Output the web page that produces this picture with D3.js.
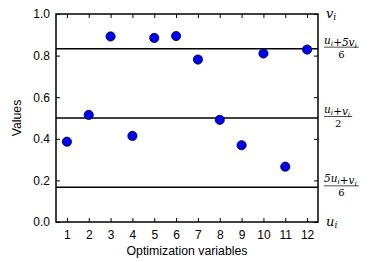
<!DOCTYPE html>
<html>
<head>
<meta charset="utf-8">
<script src="https://cdn.jsdelivr.net/npm/d3@7"></script>
<style>
  body { margin: 0; background: #fff; }
  svg { display: block; }
  .tick text { font-family: "Liberation Sans", Arial, sans-serif; font-size: 12px; fill: #000; }
  .lbl { font-family: "Liberation Sans", Arial, sans-serif; font-size: 12.3px; fill: #000; }
  .math { font-family: "DejaVu Serif", "Liberation Serif", serif; font-style: italic; fill: #000; }
</style>
</head>
<body>
<div id="chart"></div>
<script>
// data
const variables = [1, 2, 3, 4, 5, 6, 7, 8, 9, 10, 11, 12];
const values = [0.386, 0.515, 0.892, 0.414, 0.885, 0.894, 0.781, 0.491, 0.369, 0.81, 0.266, 0.829];
const yTicks = [0.0, 0.2, 0.4, 0.6, 0.8, 1.0];
const levels = [5 / 6, 1 / 2, 1 / 6];
const levelLabels = [
  { num: [['u', 'i'], ['+5v', 'i']], den: '6' },
  { num: [['u', 'i'], ['+v', 'i']], den: '2' },
  { num: [['5u', 'i'], ['+v', 'i']], den: '6' },
];

const W = 374, H = 262;
const margin = { top: 14, right: 56, bottom: 40, left: 56 };
const innerW = W - margin.left - margin.right;
const innerH = H - margin.top - margin.bottom;

const svg = d3.select('#chart').append('svg').attr('width', W).attr('height', H);
const g = svg.append('g').attr('transform', `translate(${margin.left},${margin.top})`);

const x = d3.scaleLinear().domain([0.5, 12.5]).range([0, innerW]);
const y = d3.scaleLinear().domain([0, 1]).range([innerH, 0]);

// axes, ticks pointing inward
g.append('g').attr('transform', `translate(0,${innerH})`)
  .call(d3.axisBottom(x).tickValues(variables).tickFormat(d3.format('d')).tickSizeInner(-4).tickSizeOuter(0).tickPadding(8));
g.append('g')
  .call(d3.axisTop(x).tickValues(variables).tickFormat('').tickSizeInner(-4).tickSizeOuter(0));
g.append('g')
  .call(d3.axisLeft(y).tickValues(yTicks).tickFormat(d3.format('.1f')).tickSizeInner(-4).tickSizeOuter(0).tickPadding(6));
g.append('g').attr('transform', `translate(${innerW},0)`)
  .call(d3.axisRight(y).tickValues(yTicks).tickFormat('').tickSizeInner(-4).tickSizeOuter(0));
g.selectAll('.domain').remove();
g.selectAll('.tick line').attr('stroke', '#000');

// frame
g.append('rect').attr('width', innerW).attr('height', innerH)
  .attr('fill', 'none').attr('stroke', '#000').attr('stroke-width', 1.5);

// reference lines
g.selectAll('.level').data(levels).enter().append('line')
  .attr('class', 'level')
  .attr('x1', 0).attr('x2', innerW)
  .attr('y1', d => y(d)).attr('y2', d => y(d))
  .attr('stroke', '#000').attr('stroke-width', 1.5);

// points
g.selectAll('.pt').data(variables).enter().append('circle')
  .attr('class', 'pt')
  .attr('cx', d => x(d))
  .attr('cy', (d, i) => y(values[i]))
  .attr('r', 4.6)
  .attr('fill', '#0000ff').attr('stroke', '#000').attr('stroke-width', 0.8);

// axis titles
svg.append('text').attr('class', 'lbl')
  .attr('x', margin.left + innerW / 2).attr('y', H - 7)
  .attr('text-anchor', 'middle').text('Optimization variables');
svg.append('text').attr('class', 'lbl')
  .attr('transform', `translate(21,${margin.top + innerH / 2}) rotate(-90)`)
  .attr('text-anchor', 'middle').text('Values');

// right side math labels
const rx = margin.left + innerW + 6;
function subText(sel, parts, size) {
  const t = sel.append('text').attr('class', 'math').attr('font-size', size);
  parts.forEach(p => {
    t.append('tspan').text(p[0]);
    t.append('tspan').attr('font-size', size * 0.7).attr('dy', 2).text(p[1]);
    t.append('tspan').attr('dy', -2).text('');
  });
  return t;
}
const vLabel = subText(svg, [['v', 'i']], 13);
vLabel.attr('x', rx + 2).attr('y', margin.top + 4);
const uLabel = subText(svg, [['u', 'i']], 13);
uLabel.attr('x', rx + 2).attr('y', margin.top + innerH + 4);

levels.forEach((lv, i) => {
  const cy = margin.top + y(lv);
  const lab = levelLabels[i];
  const num = subText(svg, lab.num, 10.5);
  num.attr('x', rx).attr('y', cy - 5);
  const w = num.node().getComputedTextLength();
  svg.append('line').attr('x1', rx).attr('x2', rx + w + 2)
    .attr('y1', cy - 1.5).attr('y2', cy - 1.5).attr('stroke', '#000').attr('stroke-width', 0.7);
  svg.append('text').attr('class', 'math').attr('font-size', 10).style('font-style', 'normal')
    .attr('x', rx + (w + 2) / 2).attr('y', cy + 9).attr('text-anchor', 'middle').text(lab.den);
});
</script>
</body>
</html>
